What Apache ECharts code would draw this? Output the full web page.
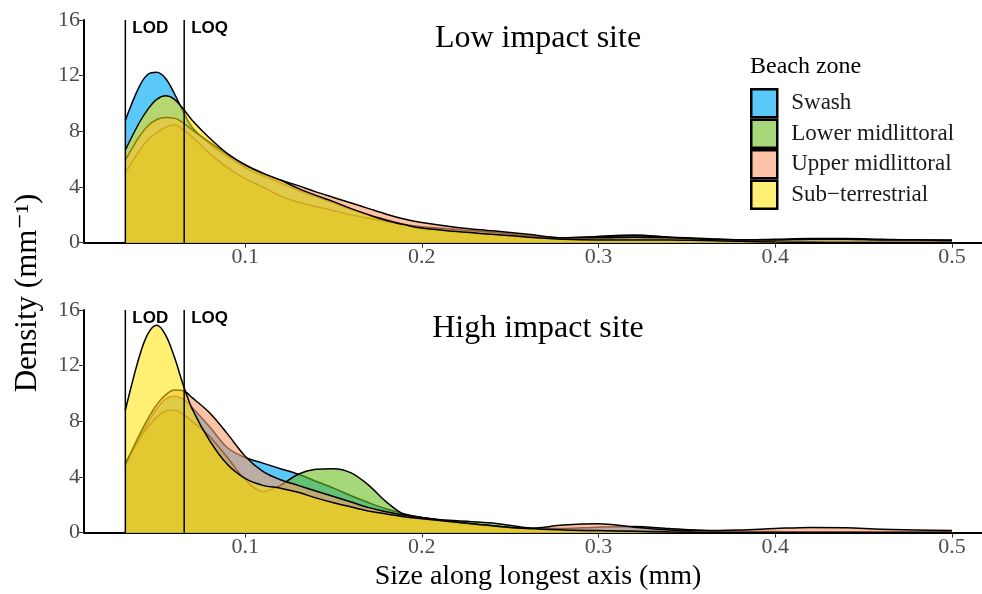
<!DOCTYPE html>
<html>
<head>
<meta charset="utf-8">
<script src="https://cdn.jsdelivr.net/npm/echarts@6/dist/echarts.min.js"></script>
<style>
  html, body { margin: 0; padding: 0; background: #fff; }
  #main { width: 982px; height: 594px; }
</style>
</head>
<body>
<div id="main"></div>
<script>
// size along longest axis (mm), shared by all density curves
var sizes = [0.0322, 0.04, 0.045, 0.05, 0.055, 0.06, 0.065, 0.07, 0.08, 0.09, 0.10, 0.11, 0.12, 0.13, 0.14, 0.15, 0.16, 0.17, 0.18, 0.19, 0.20,
  0.22, 0.24, 0.26, 0.28, 0.30, 0.32, 0.34, 0.36, 0.38, 0.40, 0.42, 0.44, 0.46, 0.48, 0.50];

var zones = ['Swash', 'Lower midlittoral', 'Upper midlittoral', 'Sub\u2212terrestrial'];

// low impact site
var lowSwash = [8.8, 11.2, 12.1, 12.25, 11.8, 10.7, 9.4, 8.3, 7.1, 6.2, 5.4, 4.8, 4.3, 3.75, 3.3, 2.85, 2.4, 2.0, 1.65, 1.3, 1.0,
  0.75, 0.55, 0.4, 0.3, 0.45, 0.55, 0.4, 0.25, 0.2, 0.2, 0.25, 0.25, 0.2, 0.2, 0.15];
var lowLower = [5.0, 6.6, 7.4, 7.9, 8.3, 8.45, 8.1, 7.6, 6.4, 5.4, 4.6, 4.0, 3.35, 2.9, 2.6, 2.3, 2.0, 1.75, 1.5, 1.3, 1.15,
  0.95, 0.75, 0.5, 0.35, 0.45, 0.5, 0.4, 0.3, 0.2, 0.25, 0.3, 0.3, 0.25, 0.2, 0.2];
var lowUpper = [5.94, 7.6, 8.4, 8.85, 9.0, 8.95, 8.6, 8.1, 7.2, 6.35, 5.55, 4.95, 4.5, 4.1, 3.65, 3.25, 2.85, 2.45, 2.05, 1.7, 1.45,
  1.1, 0.85, 0.6, 0.35, 0.35, 0.4, 0.35, 0.25, 0.2, 0.2, 0.25, 0.25, 0.2, 0.2, 0.15];
var lowSub = [6.66, 8.6, 9.6, 10.3, 10.55, 10.3, 9.6, 8.8, 7.5, 6.4, 5.6, 5.0, 4.5, 3.9, 3.4, 2.95, 2.45, 2.0, 1.6, 1.3, 1.05,
  0.8, 0.6, 0.4, 0.25, 0.2, 0.2, 0.2, 0.15, 0.1, 0.05, 0.03, 0.02, 0.02, 0.02, 0.02];

// high impact site
var highSwash = [4.8, 6.8, 7.9, 8.9, 9.6, 9.8, 9.6, 9.0, 7.6, 6.1, 5.4, 5.0, 4.6, 4.2, 3.7, 3.2, 2.65, 2.15, 1.7, 1.35, 1.1,
  0.7, 0.45, 0.3, 0.3, 0.4, 0.45, 0.3, 0.15, 0.1, 0.08, 0.05, 0.05, 0.05, 0.05, 0.05];
var highLower = [5.0, 6.7, 7.6, 8.3, 8.75, 8.8, 8.5, 8.0, 6.9, 5.4, 3.8, 2.95, 3.4, 4.2, 4.55, 4.6, 4.3, 3.4, 2.2, 1.3, 1.05,
  0.85, 0.7, 0.35, 0.15, 0.1, 0.1, 0.1, 0.05, 0.05, 0.05, 0.03, 0.03, 0.02, 0.02, 0.02];
var highUpper = [4.9, 7.0, 8.2, 9.2, 9.9, 10.25, 10.2, 9.7, 8.6, 7.1, 5.5, 4.4, 3.8, 3.4, 3.0, 2.6, 2.2, 1.8, 1.5, 1.25, 1.1,
  0.75, 0.5, 0.3, 0.55, 0.65, 0.4, 0.2, 0.15, 0.2, 0.3, 0.38, 0.35, 0.25, 0.2, 0.15];
var highSub = [8.8, 12.6, 14.3, 14.9, 14.2, 12.6, 10.6, 8.9, 6.6, 4.9, 3.9, 3.4, 3.2, 2.9, 2.5, 2.15, 1.85, 1.55, 1.35, 1.15, 1.0,
  0.75, 0.5, 0.3, 0.2, 0.15, 0.1, 0.05, 0.02, 0.01, 0.01, 0.01, 0.01, 0.01, 0.01, 0.01];

var xTicks = [0.1, 0.2, 0.3, 0.4, 0.5];
var LOD = 0.0322, LOQ = 0.0655;

var fills = ['rgba(22,176,248,0.7)', 'rgba(107,190,33,0.6)', 'rgba(251,155,107,0.6)', 'rgba(255,225,0,0.55)'];
var serif = '"Liberation Serif", "DejaVu Serif", serif';

function densitySeries(k, ys, idx) {
  return {
    name: zones[k],
    type: 'line',
    z: 2 + k,
    xAxisIndex: idx,
    yAxisIndex: idx,
    data: sizes.map(function (x, i) { return [x, ys[i]]; }),
    smooth: 0.35,
    symbol: 'none',
    lineStyle: { color: '#000', width: 1.5 },
    itemStyle: { color: fills[k] },
    areaStyle: { color: fills[k], opacity: 1 },
    emphasis: { disabled: true },
    silent: true
  };
}

// vertical LOD / LOQ line with its label at the top
function limitSeries(name, x, idx) {
  return {
    type: 'line',
    z: 10,
    xAxisIndex: idx,
    yAxisIndex: idx,
    symbol: 'circle',
    symbolSize: 0,
    showSymbol: true,
    silent: true,
    lineStyle: { color: '#000', width: 1.5 },
    label: { show: false },
    data: [[x, 0], {
      value: [x, 16],
      label: {
        show: true, position: 'right', distance: 5, offset: [2, 8], formatter: name,
        fontFamily: '"Liberation Sans", Arial, sans-serif', fontWeight: 'bold', fontSize: 17, color: '#000'
      }
    }]
  };
}

function xAxisOf(idx) {
  return {
    gridIndex: idx, type: 'value', min: 0.0088, max: 0.517,
    axisLine: { lineStyle: { color: '#000', width: 2 } },
    axisTick: { customValues: xTicks, length: 5, lineStyle: { color: '#333', width: 1 } },
    axisLabel: {
      customValues: xTicks, margin: 4, fontFamily: serif, fontSize: 22, color: '#4d4d4d',
      formatter: function (v) { return v.toFixed(1); }
    },
    splitLine: { show: false }
  };
}

function yAxisOf(idx) {
  return {
    gridIndex: idx, type: 'value', min: 0, max: 16, interval: 4,
    axisLine: { show: true, lineStyle: { color: '#000', width: 2 } },
    axisTick: { show: true, length: 5, lineStyle: { color: '#333', width: 1 } },
    axisLabel: { margin: 4, fontFamily: serif, fontSize: 22, color: '#4d4d4d' },
    splitLine: { show: false }
  };
}

var chart = echarts.init(document.getElementById('main'));
chart.setOption({
  animation: false,
  backgroundColor: '#fff',
  grid: [
    { left: 84, right: 0, top: 20, height: 222.7 },
    { left: 84, right: 0, top: 310, height: 222.7 }
  ],
  xAxis: [xAxisOf(0), xAxisOf(1)],
  yAxis: [yAxisOf(0), yAxisOf(1)],
  legend: {
    orient: 'vertical', left: 750, top: 88, padding: 0,
    itemWidth: 26, itemHeight: 28, itemGap: 0, icon: 'rect',
    selectedMode: false,
    textStyle: { fontFamily: serif, fontSize: 23, lineHeight: 22, color: '#1a1a1a', padding: [0, 0, 0, 9] },
    data: zones.map(function (z, k) {
      return { name: z, itemStyle: { color: fills[k], borderColor: '#000', borderWidth: 2.5 } };
    })
  },
  graphic: [
    { type: 'text', x: 538, y: 39, style: { text: 'Low impact site', font: '32px ' + serif, fill: '#000', align: 'center', verticalAlign: 'middle', textAlign: 'center', textVerticalAlign: 'middle' } },
    { type: 'text', x: 538, y: 329, style: { text: 'High impact site', font: '32px ' + serif, fill: '#000', align: 'center', verticalAlign: 'middle', textAlign: 'center', textVerticalAlign: 'middle' } },
    { type: 'text', x: 750, y: 67, style: { text: 'Beach zone', font: '24px ' + serif, fill: '#000', align: 'left', verticalAlign: 'middle', textAlign: 'left', textVerticalAlign: 'middle' } },
    { type: 'text', x: 538, y: 577, style: { text: 'Size along longest axis (mm)', font: '28px ' + serif, fill: '#000', align: 'center', verticalAlign: 'middle', textAlign: 'center', textVerticalAlign: 'middle' } },
    { type: 'text', x: 28, y: 293, rotation: Math.PI / 2, style: { text: 'Density (mm\u207B\u00B9)', font: '31px ' + serif, fill: '#000', align: 'center', verticalAlign: 'middle', textAlign: 'center', textVerticalAlign: 'middle' } }
  ],
  series: [
    densitySeries(0, lowSwash, 0),
    densitySeries(1, lowLower, 0),
    densitySeries(2, lowUpper, 0),
    densitySeries(3, lowSub, 0),
    limitSeries('LOD', LOD, 0),
    limitSeries('LOQ', LOQ, 0),
    densitySeries(0, highSwash, 1),
    densitySeries(1, highLower, 1),
    densitySeries(2, highUpper, 1),
    densitySeries(3, highSub, 1),
    limitSeries('LOD', LOD, 1),
    limitSeries('LOQ', LOQ, 1)
  ]
});
</script>
</body>
</html>
